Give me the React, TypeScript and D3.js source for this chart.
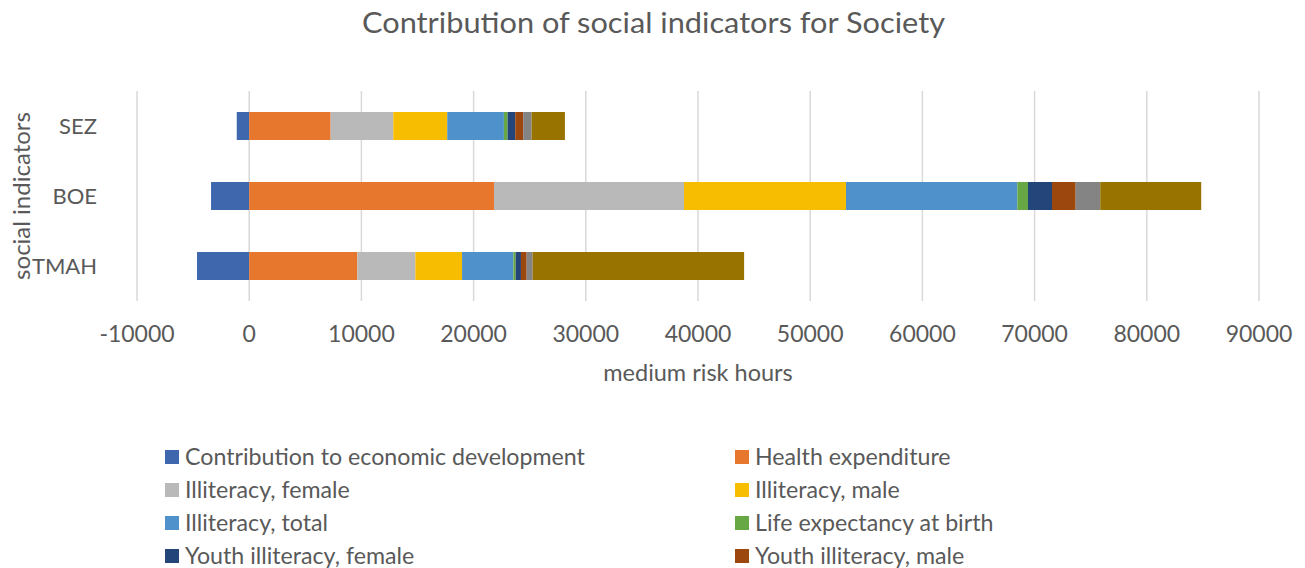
import React from "react";
import * as d3 from "d3";

const categories = ["SEZ", "BOE", "TMAH"];
const seriesNames = [
  "Contribution to economic development",
  "Health expenditure",
  "Illiteracy, female",
  "Illiteracy, male",
  "Illiteracy, total",
  "Life expectancy at birth",
  "Youth illiteracy, female",
  "Youth illiteracy, male",
  "Youth illiteracy, total",
  "Other indicators",
];
// values per series, in order SEZ, BOE, TMAH
const contribution = [-1110, -3400, -4650];
const healthExpenditure = [7260, 21820, 9640];
const illiteracyFemale = [5580, 16930, 5170];
const illiteracyMale = [4810, 14440, 4160];
const illiteracyTotal = [5050, 15270, 4570];
const lifeExpectancy = [330, 950, 210];
const youthFemale = [680, 2140, 470];
const youthMale = [710, 2110, 510];
const youthTotal = [750, 2190, 530];
const otherIndicators = [2970, 9000, 18850];
const seriesValues = [
  contribution,
  healthExpenditure,
  illiteracyFemale,
  illiteracyMale,
  illiteracyTotal,
  lifeExpectancy,
  youthFemale,
  youthMale,
  youthTotal,
  otherIndicators,
];
const colors = [
  "#3E67AE",
  "#E8772E",
  "#B9B9B9",
  "#F7BD00",
  "#4F92CB",
  "#68A844",
  "#24457A",
  "#9C470D",
  "#848484",
  "#987300",
];
const xTicks = [-10000, 0, 10000, 20000, 30000, 40000, 50000, 60000, 70000, 80000, 90000];
const legendCount = 8;

const W = 1305;
const H = 568;
const FONT = "Lato, 'Open Sans', sans-serif";
const TXT = "#595959";

export default function App() {
  const x = d3.scaleLinear().domain([-10000, 90000]).range([137, 1259]);
  const y = d3
    .scaleBand<string>()
    .domain(categories)
    .range([91, 301])
    .paddingInner(0.6)
    .paddingOuter(0.3);

  const table = categories.map((c, i) => {
    const row: any = { cat: c };
    seriesNames.forEach((s, k) => (row[s] = seriesValues[k][i]));
    return row;
  });
  const stack = d3
    .stack<any>()
    .keys(seriesNames)
    .offset(d3.stackOffsetDiverging)
    .order(d3.stackOrderNone);
  const layers = stack(table);

  return (
    <svg
      width={W}
      height={H}
      style={{ position: "absolute", left: 0, top: 0, background: "#fff" }}
      fontFamily={FONT}
    >
      <rect width={W} height={H} fill="#fff" />
      <text
        x={653.5}
        y={33}
        textAnchor="middle"
        fontSize={29}
        fill={TXT}
        textLength={583}
        lengthAdjust="spacingAndGlyphs"
      >
        Contribution of social indicators for Society
      </text>
      {xTicks.map((t) => (
        <line
          key={t}
          x1={x(t)}
          x2={x(t)}
          y1={91}
          y2={301}
          stroke="#D9D9D9"
          strokeWidth={1.5}
        />
      ))}
      {layers.map((layer, k) => (
        <g key={layer.key} fill={colors[k]}>
          {layer.map((d, i) => (
            <rect
              key={i}
              x={x(Math.min(d[0], d[1]))}
              width={Math.abs(x(d[1]) - x(d[0]))}
              y={y(categories[i])}
              height={y.bandwidth()}
            />
          ))}
        </g>
      ))}
      {xTicks.map((t) => (
        <text
          key={t}
          x={x(t)}
          y={342}
          textAnchor="middle"
          fontSize={23}
          fill={TXT}
        >
          {t}
        </text>
      ))}
      {categories.map((c) => (
        <text
          key={c}
          x={97}
          y={(y(c) as number) + y.bandwidth() / 2}
          dy="0.35em"
          textAnchor="end"
          fontSize={22}
          fill={TXT}
        >
          {c}
        </text>
      ))}
      <text x={698} y={381} textAnchor="middle" fontSize={23.5} fill={TXT}>
        medium risk hours
      </text>
      <text
        transform={`translate(30,196) rotate(-90)`}
        textAnchor="middle"
        fontSize={24}
        fill={TXT}
      >
        social indicators
      </text>
      {seriesNames.slice(0, legendCount).map((s, k) => {
        const col = k % 2;
        const row = Math.floor(k / 2);
        const lx = col === 0 ? 165 : 735;
        const ly = 457 + row * 33;
        return (
          <g key={s}>
            <rect x={lx} y={ly - 7} width={14} height={14} fill={colors[k]} />
            <text x={lx + 20} y={ly} dy="0.35em" fontSize={23.2} fill={TXT}>
              {s}
            </text>
          </g>
        );
      })}
    </svg>
  );
}
